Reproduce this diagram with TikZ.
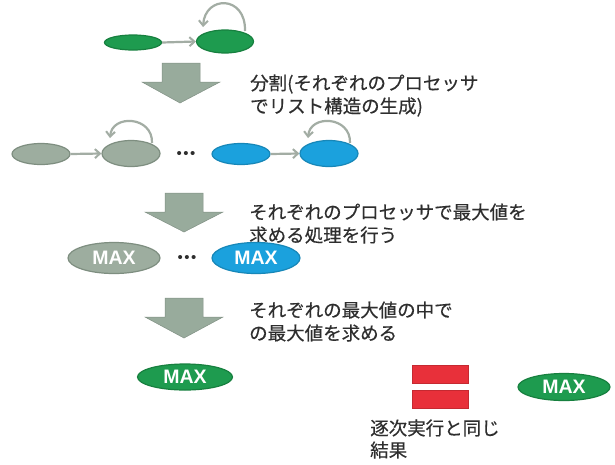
\documentclass[tikz,border=0pt]{standalone}
\usepackage{fontspec}
\setmainfont{Liberation Sans}
\newfontfamily\jpfont[FakeBold=0.4]{Noto Sans CJK JP}
\usetikzlibrary{arrows.meta,shapes.geometric}
\definecolor{grn}{HTML}{1E9B4F}
\definecolor{grnd}{HTML}{17803F}
\definecolor{blu}{HTML}{1BA1DD}
\definecolor{blud}{HTML}{1787B8}
\definecolor{gry}{HTML}{9DAD9F}
\definecolor{gryd}{HTML}{7E8E80}
\definecolor{bigarr}{HTML}{98AB9C}
\definecolor{lnk}{HTML}{A3ADA4}
\definecolor{redbar}{HTML}{E8303A}
\definecolor{txt}{HTML}{2E2E2E}
\tikzset{
  ell/.style={ellipse, inner sep=0pt, line width=1.2pt},
  gnode/.style={ell, fill=grn, draw=grnd},
  bnode/.style={ell, fill=blu, draw=blud},
  ynode/.style={ell, fill=gry, draw=gryd},
  lnkarrow/.style={draw=lnk, line width=2.2pt, -{Straight Barb[length=5pt,width=9pt,line width=2pt]}},
  maxlabel/.style={ell, font=\fontsize{19.5}{19.5}\selectfont\bfseries, text=white},
  jp/.style={font=\jpfont\fontsize{18.5}{22}\selectfont, text=txt, anchor=west, inner sep=0pt},
  bigarrow/.style={fill=bigarr, draw=bigarr!85!black, line width=0.5pt},
  bar/.style={fill=redbar, draw=redbar!85!black, line width=0.6pt},
  dots/.style={font=\fontsize{15}{15}\selectfont, text=txt, inner sep=0pt},
}
\begin{document}
\begin{tikzpicture}[x=1pt,y=-1pt]
\useasboundingbox (0,0) rectangle (615,464);
\fill[white] (0,0) rectangle (615,464);

% top row
\node[gnode, minimum width=57pt, minimum height=15pt] (t1) at (133,42.5) {};
\node[gnode, minimum width=57pt, minimum height=23pt] (t2) at (225,41.5) {};
\draw[lnkarrow] (t1.east) -- (t2.west);
\draw[lnkarrow] (245,31) .. controls (246,-5) and (205,-5) .. (203,27);

% big arrow 1
\draw[bigarrow] (162,63) -- (200,63) -- (200,82) -- (220,82) -- (180,103) -- (142,82) -- (162,82) -- cycle;

\node[jp] (s1a) at (250,84) {分割(それぞれのプロセッサ};
\node[jp] (s1b) at (250,107) {でリスト構造の生成)};

% second row
\node[ynode, minimum width=58pt, minimum height=21pt] (g1) at (41,154) {};
\node[ynode, minimum width=58pt, minimum height=26pt] (g2) at (131,153.5) {};
\node[dots] (d1) at (186,155) {•\hspace{1.5pt}•\hspace{1.5pt}•};
\node[bnode, minimum width=58pt, minimum height=21pt] (b1) at (241,154) {};
\node[bnode, minimum width=58pt, minimum height=26pt] (b2) at (329,153.5) {};
\draw[lnkarrow] (g1.east) -- (g2.west);
\draw[lnkarrow] (b1.east) -- (b2.west);
\draw[lnkarrow] (152,143) .. controls (153,116) and (112,114) .. (110,138);
\draw[lnkarrow] (350,143) .. controls (351,116) and (310,114) .. (308,138);

% big arrow 2
\draw[bigarrow] (165,193) -- (203,193) -- (203,212) -- (223,212) -- (184,232) -- (145,212) -- (165,212) -- cycle;

\node[jp] (s2a) at (249,212) {それぞれのプロセッサで最大値を};
\node[jp] (s2b) at (249,235) {求める処理を行う};

% MAX row
\node[ynode, maxlabel, minimum width=92pt, minimum height=31pt] (m1) at (114,258) {MAX};
\node[dots] (d2) at (187,259) {•\hspace{1.5pt}•\hspace{1.5pt}•};
\node[bnode, maxlabel, minimum width=88pt, minimum height=31pt] (m2) at (256,258) {MAX};

% big arrow 3
\draw[bigarrow] (165,298) -- (203,298) -- (203,317) -- (223,317) -- (184,338) -- (145,317) -- (165,317) -- cycle;

\node[jp] (s3a) at (249,310) {それぞれの最大値の中で};
\node[jp] (s3b) at (249,333) {の最大値を求める};

% bottom
\node[gnode, maxlabel, minimum width=95pt, minimum height=26pt] (m3) at (185,377) {MAX};
\draw[bar] (412,365) rectangle (468,383);
\draw[bar] (412,390) rectangle (468,408);
\node[gnode, maxlabel, minimum width=92pt, minimum height=27pt] (m4) at (564,387) {MAX};
\node[jp] (s4a) at (370,428) {逐次実行と同じ};
\node[jp] (s4b) at (370,450) {結果};
\end{tikzpicture}
\end{document}
